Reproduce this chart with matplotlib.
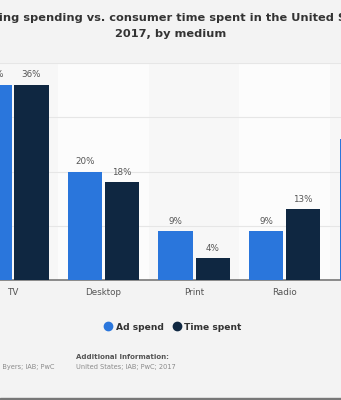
import matplotlib.pyplot as plt
from matplotlib.lines import Line2D
from matplotlib.patches import Rectangle
import numpy as np

media = ["TV", "Desktop", "Print", "Radio", "Mobile"]
ad_spend = [36, 20, 9, 9, 26]
time_spent = [36, 18, 4, 13, 29]

BLUE = "#2a76dc"
NAVY = "#0f2741"
BG = "#f3f3f3"

fig = plt.figure(figsize=(3.41, 4.0), dpi=100, facecolor=BG)
ax = fig.add_axes([0.0, 0.30, 1.0, 0.5425])
ax.set_facecolor("#f7f7f7")

x = np.arange(len(media))
w = 0.376
off = 0.2045

# alternating column bands
for i in x:
    if i % 2 == 1:
        ax.axvspan(i - 0.5, i + 0.5, color="#fcfcfc", zorder=0, lw=0)

for yv in [10, 20, 30, 40]:
    ax.axhline(yv, color="#e6e6e6", lw=0.8, zorder=1)

b1 = ax.bar(x - off, ad_spend, w, color=BLUE, zorder=3)
b2 = ax.bar(x + off, time_spent, w, color=NAVY, zorder=3)

for bars, vals in [(b1, ad_spend), (b2, time_spent)]:
    for b, v in zip(bars, vals):
        ax.text(b.get_x() + b.get_width() / 2, v + 1.0, f"{v}%",
                ha="center", va="bottom", fontsize=6.3, color="#555555")

ax.set_xticks(x)
ax.set_xticklabels(media, fontsize=6.3, color="#555555")
# set limits after the ticks, otherwise set_xticks widens the view
ax.set_xlim(-0.1436, 3.624)
ax.set_ylim(0, 40)
ax.tick_params(axis="x", length=0, pad=6)
ax.set_yticks([])
for s in ["top", "right", "left"]:
    ax.spines[s].set_visible(False)
ax.spines["bottom"].set_color("#8a8a8a")
ax.spines["bottom"].set_linewidth(1.4)

fig.text(0.5, 1 - 18 / 400,
         "Advertising spending vs. consumer time spent in the United States in",
         ha="center", va="center", fontsize=8.2, fontweight="bold", color="#333333")
fig.text(0.5, 1 - 34 / 400, "2017, by medium",
         ha="center", va="center", fontsize=8.2, fontweight="bold", color="#333333")

handles = [
    Line2D([], [], marker="o", ls="", color=BLUE, markersize=6),
    Line2D([], [], marker="o", ls="", color=NAVY, markersize=6),
]
leg = fig.legend(handles, ["Ad spend", "Time spent"], loc="center",
                 bbox_to_anchor=(0.506, 1 - 327 / 400), ncol=2, frameon=False,
                 handletextpad=0.3, columnspacing=0.9, handlelength=1.0,
                 prop={"size": 6.6, "weight": "bold"})
for t in leg.get_texts():
    t.set_color("#333333")

fig.text(-0.45, 1 - 357 / 400, "Source", ha="left", va="center",
         fontsize=5, fontweight="bold", color="#555555")
fig.text(55 / 341, 1 - 367 / 400, "Kleiner Perkins Caufield & Byers; IAB; PwC",
         ha="right", va="center", fontsize=4.8, color="#8a8a8a")
fig.text(76 / 341, 1 - 357 / 400, "Additional Information:", ha="left", va="center",
         fontsize=5, fontweight="bold", color="#555555")
fig.text(76 / 341, 1 - 367 / 400, "United States; IAB; PwC; 2017", ha="left",
         va="center", fontsize=4.8, color="#8a8a8a")

fig.patches.append(Rectangle((0, 0), 1, 2.5 / 400, transform=fig.transFigure,
                             color="#777777", zorder=5))

fig.savefig("out.png", dpi=100, facecolor=BG)
